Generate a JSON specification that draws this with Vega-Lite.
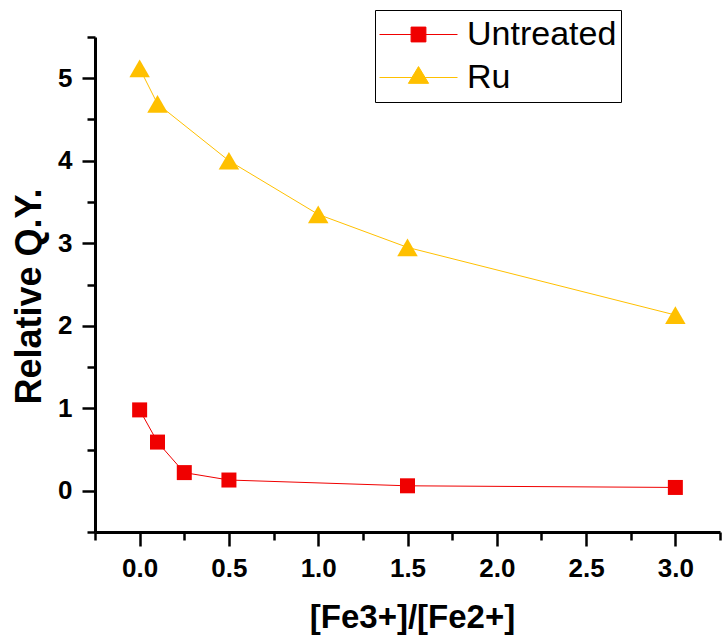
{
  "$schema": "https://vega.github.io/schema/vega-lite/v6.json",
  "width": 625,
  "height": 495,
  "autosize": {"type": "none"},
  "padding": {"left": 95, "top": 37, "right": 2, "bottom": 105},
  "background": "white",
  "config": {"view": {"stroke": null}, "font": "Liberation Sans"},
  "data": {
    "values": [
      {"series": "Untreated", "ratio": 0, "qy": 0.98},
      {"series": "Untreated", "ratio": 0.1, "qy": 0.59},
      {"series": "Untreated", "ratio": 0.25, "qy": 0.22},
      {"series": "Untreated", "ratio": 0.5, "qy": 0.13},
      {"series": "Untreated", "ratio": 1.5, "qy": 0.06},
      {"series": "Untreated", "ratio": 3.0, "qy": 0.04},
      {"series": "Ru", "ratio": 0, "qy": 5.12},
      {"series": "Ru", "ratio": 0.1, "qy": 4.69},
      {"series": "Ru", "ratio": 0.5, "qy": 4.0},
      {"series": "Ru", "ratio": 1.0, "qy": 3.35},
      {"series": "Ru", "ratio": 1.5, "qy": 2.95},
      {"series": "Ru", "ratio": 3.0, "qy": 2.13}
    ]
  },
  "encoding": {
    "x": {
      "field": "ratio",
      "type": "quantitative",
      "scale": {"domain": [-0.25, 3.25], "nice": false, "zero": false},
      "axis": {
        "title": "[Fe3+]/[Fe2+]",
        "values": [-0.25, 0, 0.25, 0.5, 0.75, 1, 1.25, 1.5, 1.75, 2, 2.25, 2.5, 2.75, 3, 3.25],
        "labelExpr": "abs(datum.value*2 - round(datum.value*2)) < 0.001 ? format(datum.value, '.1f') : ''",
        "tickSize": {"condition": {"test": "abs(datum.value*2 - round(datum.value*2)) < 0.001", "value": 14}, "value": 8},
        "tickWidth": 2.5,
        "tickColor": "black",
        "domainColor": "black",
        "domainWidth": 3,
        "grid": false,
        "labelFont": "Liberation Sans",
        "labelFontWeight": "bold",
        "labelFontSize": 26,
        "labelColor": "black",
        "labelPadding": 9,
        "labelFlush": false,
        "labelOverlap": false,
        "titleFont": "Liberation Sans",
        "titleFontWeight": "bold",
        "titleFontSize": 33,
        "titleColor": "black",
        "titleX": 317,
        "titleY": 69,
        "titleBaseline": "top",
        "titleAlign": "center"
      }
    },
    "y": {
      "field": "qy",
      "type": "quantitative",
      "scale": {"domain": [-0.5, 5.5], "nice": false, "zero": false},
      "axis": {
        "title": "Relative Q.Y.",
        "values": [-0.5, 0, 0.5, 1, 1.5, 2, 2.5, 3, 3.5, 4, 4.5, 5, 5.5],
        "labelExpr": "abs(datum.value - round(datum.value)) < 0.001 ? format(datum.value, 'd') : ''",
        "tickSize": {"condition": {"test": "abs(datum.value - round(datum.value)) < 0.001", "value": 13}, "value": 8},
        "tickWidth": 2.5,
        "tickColor": "black",
        "domainColor": "black",
        "domainWidth": 3,
        "grid": false,
        "labelFont": "Liberation Sans",
        "labelFontWeight": "bold",
        "labelFontSize": 26,
        "labelColor": "black",
        "labelPadding": 10,
        "labelFlush": false,
        "labelOverlap": false,
        "titleFont": "Liberation Sans",
        "titleFontWeight": "bold",
        "titleFontSize": 36,
        "titleColor": "black",
        "titleAngle": 270,
        "titleBaseline": "bottom",
        "titleAlign": "center",
        "titleX": -47,
        "titleY": 259
      }
    },
    "color": {
      "field": "series",
      "type": "nominal",
      "scale": {"domain": ["Untreated", "Ru"], "range": ["#F00000", "#FFC000"]},
      "legend": {
        "title": null,
        "orient": "none",
        "legendX": 280,
        "legendY": -27,
        "padding": 4,
        "fillColor": "white",
        "strokeColor": "black",
        "symbolSize": 6084,
        "symbolStrokeWidth": 1,
        "symbolOpacity": 1,
        "clipHeight": 41,
        "rowPadding": 2,
        "labelOffset": 9,
        "labelFont": "Liberation Sans",
        "labelFontSize": 34,
        "labelColor": "black",
        "labelLimit": 400,
        "encode": {
          "symbols": {
            "update": {
              "fill": {"condition": {"test": "datum.value === 'Untreated'", "value": "#F00000"}, "value": "#FFC000"},
              "stroke": {"condition": {"test": "datum.value === 'Untreated'", "value": "#F00000"}, "value": "#FFC000"},
              "strokeWidth": {"value": 1},
              "size": {"value": 6084}
            }
          }
        }
      }
    }
  },
  "layer": [
    {
      "mark": {"type": "line", "strokeWidth": 1}
    },
    {
      "transform": [{"filter": "datum.series === 'Untreated'"}],
      "mark": {"type": "point", "filled": true, "opacity": 1, "shape": "square", "size": 225}
    },
    {
      "transform": [{"filter": "datum.series === 'Ru'"}],
      "mark": {"type": "point", "filled": true, "opacity": 1, "shape": "triangle-up", "size": 420}
    },
    {
      "mark": {"type": "point", "filled": true, "opacity": 0, "size": 1},
      "encoding": {
        "shape": {
          "field": "series",
          "type": "nominal",
          "scale": {"domain": ["Untreated", "Ru"], "range": ["M-1,0H1M-0.19,-0.19H0.19V0.19H-0.19Z", "M-1,0H1M-0.26,0.15L0,-0.28L0.26,0.15Z"]},
          "legend": {
            "title": null,
            "orient": "none",
            "legendX": 280,
            "legendY": -27,
            "padding": 4,
            "fillColor": "white",
            "strokeColor": "black",
            "symbolSize": 6084,
            "symbolStrokeWidth": 1,
            "symbolOpacity": 1,
            "clipHeight": 41,
            "rowPadding": 2,
            "labelOffset": 9,
            "labelFont": "Liberation Sans",
            "labelFontSize": 34,
            "labelColor": "black",
            "labelLimit": 400,
            "encode": {
              "symbols": {
                "update": {
                  "fill": {"condition": {"test": "datum.value === 'Untreated'", "value": "#F00000"}, "value": "#FFC000"},
                  "stroke": {"condition": {"test": "datum.value === 'Untreated'", "value": "#F00000"}, "value": "#FFC000"},
                  "strokeWidth": {"value": 1},
                  "size": {"value": 6084}
                }
              }
            }
          }
        }
      }
    }
  ]
}
